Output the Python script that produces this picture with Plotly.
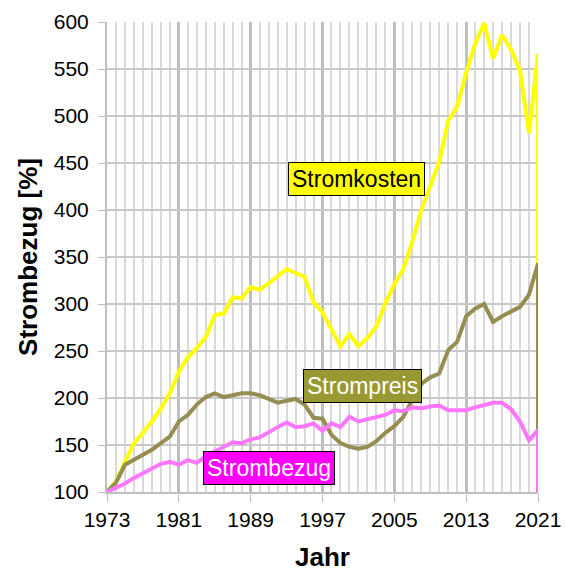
import plotly.graph_objects as go

# Jahre 1973-2021; der letzte Eintrag schließt jede Reihe an der Achse ab
jahre = list(range(1973, 2022)) + [2021]

stromkosten = [100, 111, 132, 152, 163, 175, 189, 205, 228, 243, 253, 265, 288, 290,
               307, 306, 318, 315, 322, 329, 337, 333, 329, 302, 291, 273, 255, 268,
               255, 264, 276, 301, 321, 337, 366, 400, 425, 451, 495, 510, 546, 577,
               599, 561, 586, 571, 548, 482, 566, 0]

strompreis = [100, 110, 129, 134, 139, 145, 152, 159, 175, 182, 193, 201, 205, 201,
              203, 205, 205, 203, 199, 195, 197, 199, 193, 179, 178, 161, 152, 148,
              146, 148, 154, 163, 170, 180, 198, 215, 222, 226, 251, 260, 287, 295,
              300, 281, 287, 292, 297, 310, 343, 0]

strombezug = [100, 104, 109, 115, 120, 125, 130, 132, 129, 134, 131, 138, 143, 147,
              153, 152, 156, 158, 164, 169, 174, 169, 170, 173, 165, 173, 169, 180,
              175, 177, 180, 182, 187, 186, 190, 189, 191, 192, 187, 187, 187, 190,
              193, 195, 195, 188, 175, 155, 166, 0]

reihen = [
    ("Stromkosten", stromkosten, "#FFFF00"),
    ("Strompreis", strompreis, "#968D52"),
    ("Strombezug", strombezug, "#FF77FF"),
]

# Beschriftungen: Text, Jahr, Wert, Hintergrund, Schriftfarbe
etiketten = [
    ("Stromkosten", 2000.8, 433, "#FFFF00", "#000000"),
    ("Strompreis", 2001.4, 213, "#999933", "#FFFFFF"),
    ("Strombezug", 1991.0, 125.5, "#FF00FF", "#FFFFFF"),
]

FONT = "Liberation Sans, Arial, sans-serif"

fig = go.Figure()
for name, werte, farbe in reihen:
    fig.add_trace(go.Scatter(
        x=jahre, y=werte, mode="lines", name=name,
        line=dict(color=farbe, width=4), showlegend=False,
    ))

for text, x, y, bg, fc in etiketten:
    fig.add_annotation(
        x=x, y=y, text=text, showarrow=False,
        font=dict(family=FONT, size=23, color=fc),
        bgcolor=bg, bordercolor="#000000", borderwidth=1, borderpad=3,
    )

fig.update_layout(
    width=566, height=572,
    margin=dict(l=107, r=28, t=22, b=80),
    paper_bgcolor="white", plot_bgcolor="white",
    font=dict(family=FONT, size=21, color="#000000"),
)

fig.update_xaxes(
    range=[1973, 2021], tick0=1973, dtick=8, automargin=False,
    showgrid=True, gridcolor="#BFBFBF", gridwidth=3,
    minor=dict(dtick=1, tick0=1973, showgrid=True, gridcolor="#D9D9D9", gridwidth=2),
    ticks="outside", ticklen=8, tickcolor="#BFBFBF", tickwidth=1,
    showline=True, linecolor="#BFBFBF", linewidth=2,
    tickfont=dict(family=FONT, size=21),
    title=dict(text="<b>Jahr</b>", font=dict(family=FONT, size=26), standoff=22),
    zeroline=False,
)

fig.update_yaxes(
    range=[100, 600], dtick=50, automargin=False,
    showgrid=True, gridcolor="#C8C8C8", gridwidth=2,
    ticks="outside", ticklen=7, tickcolor="#BFBFBF", tickwidth=1,
    ticklabelstandoff=5,
    showline=True, linecolor="#BFBFBF", linewidth=2,
    tickfont=dict(family=FONT, size=21),
    title=dict(text="<b>Strombezug [%]</b>", font=dict(family=FONT, size=26), standoff=9),
    zeroline=False,
)

fig.write_html("out.html")
